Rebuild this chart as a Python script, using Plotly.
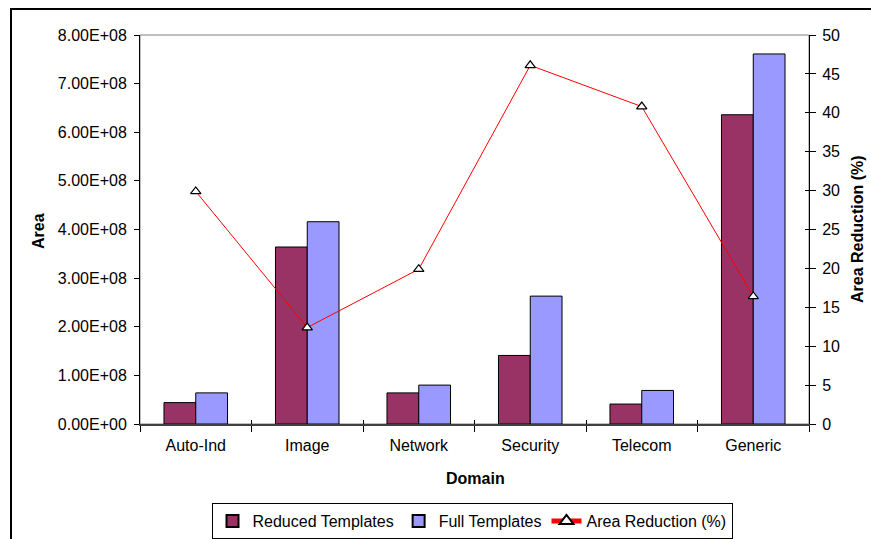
import plotly.graph_objects as go

# Domain data
domains = ["Auto-Ind", "Image", "Network", "Security", "Telecom", "Generic"]
reduced_templates = [0.44e8, 3.64e8, 0.64e8, 1.41e8, 0.41e8, 6.36e8]
full_templates = [0.64e8, 4.16e8, 0.80e8, 2.63e8, 0.69e8, 7.61e8]
area_reduction = [29.9, 12.4, 19.9, 46.1, 40.8, 16.4]

left_ticks = [i * 1e8 for i in range(9)]
left_tick_text = ["%.2fE+%02d" % (v / 1e8, 8) if v > 0 else "0.00E+00" for v in left_ticks]
right_ticks = list(range(0, 55, 5))

FONT = "Arial, 'Liberation Sans', sans-serif"
W, H = 871, 539
ML, MR, MT, MB = 140, 62, 35, 115
PW, PH = W - ML - MR, H - MT - MB


def px_x(px):
    return (px - ML) / PW


def px_y(py):
    return (H - MB - py) / PH


fig = go.Figure()

fig.add_trace(go.Bar(
    x=domains, y=reduced_templates, name="Reduced Templates",
    marker=dict(color="#993366", line=dict(color="#000000", width=1)),
))
fig.add_trace(go.Bar(
    x=domains, y=full_templates, name="Full Templates",
    marker=dict(color="#9999FF", line=dict(color="#000000", width=1)),
))
fig.add_trace(go.Scatter(
    x=domains, y=area_reduction, name="Area Reduction (%)", yaxis="y2",
    mode="lines+markers",
    line=dict(color="#FF0000", width=1),
    marker=dict(symbol="triangle-up", size=9, color="#FFFFFF",
                line=dict(color="#000000", width=1.2)),
))
# helper trace carrying the inner half of the crossing tick marks
fig.add_trace(go.Scatter(
    x=domains, y=area_reduction, xaxis="x2", yaxis="y3",
    mode="markers", marker=dict(opacity=0), showlegend=False, hoverinfo="skip",
))

axis_font = dict(family=FONT, size=16, color="#000000")

fig.update_layout(
    width=W, height=H,
    margin=dict(l=ML, r=MR, t=MT, b=MB, autoexpand=False),
    paper_bgcolor="#FFFFFF", plot_bgcolor="#FFFFFF",
    font=axis_font,
    barmode="group", bargap=0.43, bargroupgap=0,
    showlegend=True,
    legend=dict(
        orientation="h", xref="container", yref="container",
        x=472 / W, xanchor="center", y=1 - 503 / H, yanchor="top",
        bordercolor="#000000", borderwidth=1, bgcolor="#FFFFFF",
        font=dict(family=FONT, size=16, color="#000000"),
        traceorder="normal", itemsizing="constant", tracegroupgap=0,
    ),
    xaxis=dict(
        type="category", categoryorder="array", categoryarray=domains,
        range=[-0.5, 5.5], tickson="boundaries", automargin=False,
        ticks="outside", ticklen=6, tickcolor="#000000", tickwidth=1,
        ticklabelstandoff=6,
        showline=True, linecolor="#404040", linewidth=1.5,
        showgrid=False, zeroline=False, tickfont=axis_font,
    ),
    xaxis2=dict(
        type="category", categoryorder="array", categoryarray=domains,
        range=[-0.5, 5.5], tickson="boundaries", overlaying="x", anchor="y",
        ticks="inside", ticklen=4, tickcolor="#000000", tickwidth=1, automargin=False,
        showticklabels=False, showline=False, showgrid=False, zeroline=False,
    ),
    yaxis=dict(
        range=[0, 8e8], tickvals=left_ticks, ticktext=left_tick_text, automargin=False,
        ticks="outside", ticklen=5, tickcolor="#000000", tickwidth=1,
        ticklabelstandoff=4,
        showline=True, linecolor="#000000", linewidth=1,
        showgrid=False, zeroline=False, tickfont=axis_font,
    ),
    yaxis2=dict(
        range=[0, 50], tickvals=right_ticks, overlaying="y", side="right", anchor="x",
        ticks="outside", ticklen=6, tickcolor="#000000", tickwidth=1, automargin=False,
        ticklabelstandoff=3,
        showline=True, linecolor="#000000", linewidth=1,
        showgrid=False, zeroline=False, tickfont=axis_font,
    ),
    yaxis3=dict(
        range=[0, 50], tickvals=right_ticks, overlaying="y", side="right", anchor="x2",
        ticks="inside", ticklen=4, tickcolor="#000000", tickwidth=1, automargin=False,
        showticklabels=False, showline=False, showgrid=False, zeroline=False,
    ),
    shapes=[
        # plot-area border
        dict(type="rect", xref="paper", yref="paper", x0=0, x1=1, y0=0, y1=1,
             line=dict(color="#808080", width=1), layer="below"),
        # chart frame
        dict(type="rect", xref="paper", yref="paper",
             x0=px_x(11), x1=px_x(W + 5), y0=px_y(H + 5), y1=px_y(9),
             line=dict(color="#000000", width=2), layer="above"),
    ],
    annotations=[
        dict(text="<b>Area</b>", xref="paper", yref="paper", x=px_x(38), y=px_y(231),
             textangle=-90, showarrow=False, font=axis_font,
             xanchor="center", yanchor="middle"),
        dict(text="<b>Area Reduction (%)</b>", xref="paper", yref="paper",
             x=px_x(857), y=px_y(229), textangle=-90, showarrow=False, font=axis_font,
             xanchor="center", yanchor="middle"),
        dict(text="<b>Domain</b>", xref="paper", yref="paper", x=px_x(475), y=px_y(478),
             showarrow=False, font=axis_font, xanchor="center", yanchor="middle"),
    ],
)

fig.write_html("out.html")
